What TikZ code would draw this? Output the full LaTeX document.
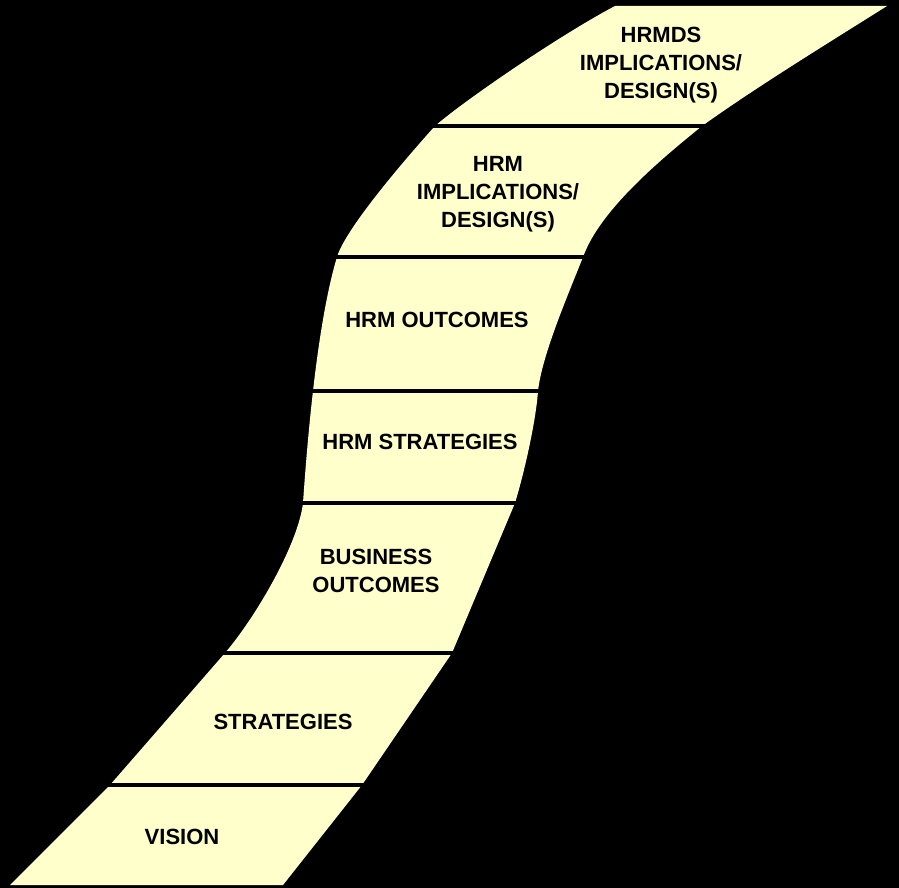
\documentclass[tikz,border=0pt]{standalone}
\usepackage{fontspec}
\setmainfont{Liberation Sans}
\definecolor{paleyellow}{HTML}{FFFFCC}
\begin{document}
\begin{tikzpicture}[x=1pt,y=-1pt,
  stage/.style={font=\fontsize{22}{28}\selectfont\bfseries,align=center,inner sep=0pt},
  divider/.style={line width=3.2pt,shorten <=-3pt,shorten >=-3pt}]

\fill[black] (0,0) rectangle (899,888);

% left and right edge of the road, bottom to top
\coordinate (l0) at (10,885);  \coordinate (r0) at (283,885);
\coordinate (l1) at (110,785); \coordinate (r1) at (362,785);
\coordinate (l2) at (225,653); \coordinate (r2) at (452,653);
\coordinate (l3) at (303,503); \coordinate (r3) at (515,503);
\coordinate (l4) at (313,391); \coordinate (r4) at (538,391);
\coordinate (l5) at (337,257); \coordinate (r5) at (583,257);
\coordinate (l6) at (435,126); \coordinate (r6) at (702,126);
\coordinate (l7) at (615,6);   \coordinate (r7) at (887,6);

\fill[paleyellow] (l0) -- (l1) -- (l2)
  .. controls (255,618) and (298,545) .. (l3)
  .. controls (308,430) and (318,320) .. (l5)
  .. controls (345,230) and (400,165) .. (l6)
  .. controls (465,100) and (560,35) .. (l7)
  -- (r7)
  .. controls (825,45) and (755,88) .. (r6)
  .. controls (660,160) and (600,210) .. (r5)
  .. controls (568,295) and (542,355) .. (r4)
  .. controls (536,420) and (525,470) .. (r3)
  -- (r2) -- (r1) -- (r0) -- cycle;

\foreach \i in {1,...,6}
  \draw[divider] (l\i) -- (r\i);

\node[stage] (vision) at (182,837) {VISION};
\node[stage] (strategies) at (283,722) {STRATEGIES};
\node[stage] (busout) at (376,571) {BUSINESS\\OUTCOMES};
\node[stage] (hrmstrat) at (420,442) {HRM STRATEGIES};
\node[stage] (hrmout) at (437,320) {HRM OUTCOMES};
\node[stage] (hrmimpl) at (498,194) {HRM\\IMPLICATIONS/\\DESIGN(S)};
\node[stage] (hrmds) at (661,65) {HRMDS\\IMPLICATIONS/\\DESIGN(S)};

\end{tikzpicture}
\end{document}
